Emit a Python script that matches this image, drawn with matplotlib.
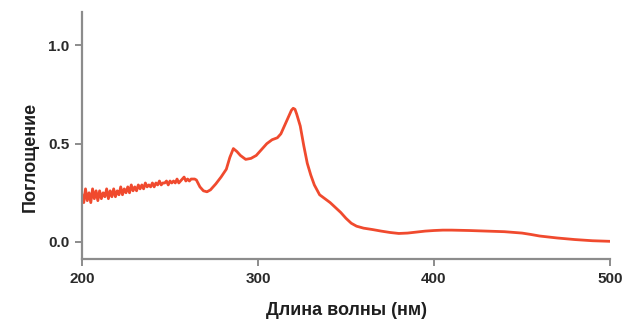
import matplotlib
matplotlib.use("Agg")
import matplotlib.pyplot as plt

# ==================================
# DATA
# ==================================

# noisy part, 1 nm steps 200..262
wl_noisy = list(range(200, 263))
abs_noisy = [0.24, 0.20, 0.27, 0.21, 0.25, 0.20, 0.27, 0.22, 0.26, 0.21,
             0.26, 0.22, 0.25, 0.23, 0.27, 0.22, 0.26, 0.23, 0.27, 0.23,
             0.26, 0.24, 0.28, 0.24, 0.27, 0.25, 0.28, 0.25, 0.29, 0.26,
             0.28, 0.26, 0.29, 0.27, 0.29, 0.27, 0.30, 0.28, 0.29, 0.28,
             0.30, 0.28, 0.30, 0.29, 0.31, 0.29, 0.30, 0.30, 0.31, 0.29,
             0.31, 0.30, 0.31, 0.30, 0.32, 0.30, 0.31, 0.32, 0.33, 0.31,
             0.32, 0.31, 0.32]

# smooth part
wl_smooth = [263, 264, 265, 267, 269, 271, 273, 276, 279, 282, 284, 286, 288,
             290, 293, 296, 299, 302, 305, 308, 311, 313, 315, 317, 319, 320,
             321, 322, 324, 326, 328, 330, 332, 335, 338, 341, 344, 347, 350,
             353, 356, 360, 365, 370, 375, 380, 385, 390, 395, 400, 405, 410,
             420, 430, 440, 450, 455, 460, 470, 480, 490, 500]
abs_smooth = [0.32, 0.32, 0.315, 0.28, 0.26, 0.255, 0.265, 0.295, 0.33, 0.37,
              0.43, 0.475, 0.46, 0.44, 0.42, 0.425, 0.44, 0.47, 0.50, 0.52,
              0.53, 0.55, 0.59, 0.63, 0.67, 0.68, 0.675, 0.65, 0.59, 0.49,
              0.40, 0.34, 0.29, 0.24, 0.22, 0.20, 0.175, 0.15, 0.12, 0.095,
              0.08, 0.07, 0.063, 0.055, 0.048, 0.043, 0.045, 0.05, 0.055,
              0.058, 0.06, 0.06, 0.058, 0.055, 0.052, 0.045, 0.038, 0.03,
              0.02, 0.012, 0.006, 0.003]

x_ticks = [200, 300, 400, 500]
y_ticks = [0.0, 0.5, 1.0]

wavelength = wl_noisy + wl_smooth
absorbance = abs_noisy + abs_smooth

# ==================================
# STYLE
# ==================================

plt.rcParams['font.family'] = ['Liberation Sans Narrow', 'Liberation Sans', 'DejaVu Sans']
axis_gray = '#8c8c8c'
text_gray = '#2a2a2a'

fig = plt.figure(figsize=(6.25, 3.2), dpi=100)
ax = fig.add_axes([0.1312, 0.1906, 0.8448, 0.7719])

ax.plot(wavelength, absorbance, color='#f04a2e', linewidth=2.0)

ax.set_xlim(200, 500)
ax.set_ylim(-0.087, 1.17)
ax.set_xticks(x_ticks)
ax.set_xticklabels([str(t) for t in x_ticks])
ax.set_yticks(y_ticks)
ax.set_yticklabels([f"{t:.1f}" for t in y_ticks])

for side in ['top', 'right']:
    ax.spines[side].set_visible(False)
for side in ['left', 'bottom']:
    ax.spines[side].set_color(axis_gray)
    ax.spines[side].set_linewidth(1.6)

ax.tick_params(axis='both', direction='out', length=5, width=1.4,
               color=axis_gray, labelsize=11, labelcolor=text_gray, pad=4)
for lbl in ax.get_xticklabels() + ax.get_yticklabels():
    lbl.set_fontweight('bold')

# axis titles
fig.text(0.5536, 0.03, 'Длина волны (нм)', ha='center', va='center',
         fontsize=13, fontweight='bold', color='#1e1e1e')
fig.text(0.048, 0.51, 'Поглощение', ha='center', va='center', rotation=90,
         fontsize=13, fontweight='bold', color='#1e1e1e')

fig.savefig('out.png', dpi=100)
